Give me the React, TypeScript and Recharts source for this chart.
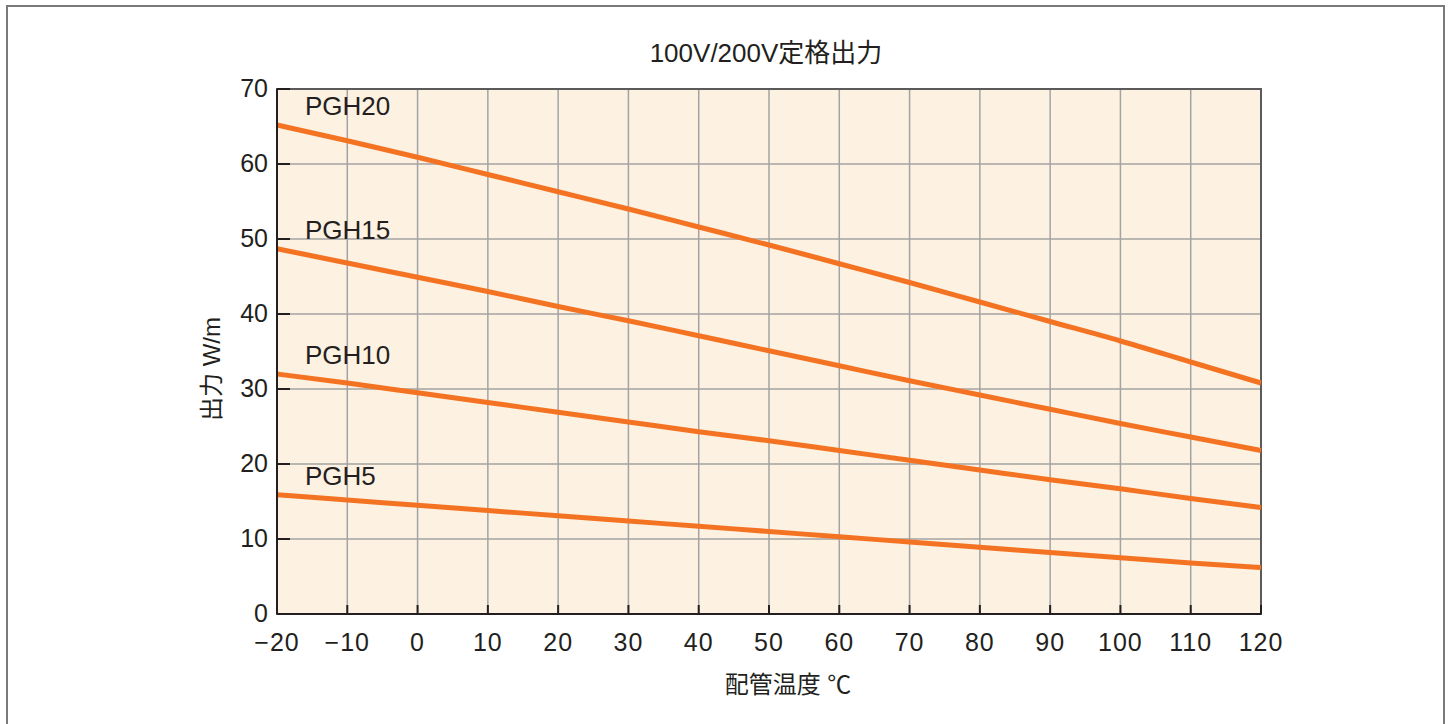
import { LineChart, Line, XAxis, YAxis, CartesianGrid, ReferenceArea, LabelList, Label } from 'recharts'

// 配管温度 ℃
const temps = [-20, -10, 0, 10, 20, 30, 40, 50, 60, 70, 80, 90, 100, 110, 120]

// 出力 W/m
const pgh20 = [65.2, 63.1, 60.9, 58.6, 56.3, 54.0, 51.6, 49.2, 46.7, 44.2, 41.6, 39.0, 36.4, 33.6, 30.8]
const pgh15 = [48.7, 46.8, 44.9, 43.0, 41.0, 39.1, 37.1, 35.1, 33.1, 31.1, 29.2, 27.3, 25.4, 23.6, 21.8]
const pgh10 = [32.0, 30.8, 29.5, 28.2, 26.9, 25.6, 24.3, 23.1, 21.8, 20.5, 19.2, 17.9, 16.7, 15.4, 14.2]
const pgh5 = [15.9, 15.2, 14.5, 13.8, 13.1, 12.4, 11.7, 11.0, 10.3, 9.6, 8.9, 8.2, 7.5, 6.8, 6.2]

const seriesNames = ['PGH20', 'PGH15', 'PGH10', 'PGH5']
const xTicks = [-20, -10, 0, 10, 20, 30, 40, 50, 60, 70, 80, 90, 100, 110, 120]
const yTicks = [0, 10, 20, 30, 40, 50, 60, 70]

const title = '100V/200V定格出力'
const xLabel = '配管温度 ℃'
const yLabel = '出力 W/m'

const data = temps.map((t, i) => ({
  t,
  PGH20: pgh20[i],
  PGH15: pgh15[i],
  PGH10: pgh10[i],
  PGH5: pgh5[i],
}))

const FONT = '"Liberation Sans", Arial, "Noto Sans CJK JP", sans-serif'
const TEXT = '#231f20'
const ORANGE = '#f47322'

const fmtX = (v: number) => (v < 0 ? `\u2212${-v}` : `${v}`)

const XTick = (props: any) => {
  const { x, y, payload } = props
  return (
    <g>
      <line x1={x} x2={x} y1={y} y2={y - 9} stroke={TEXT} strokeWidth={2} />
      <text x={x} y={y + 37} textAnchor="middle" fontSize={25} letterSpacing={1} fill={TEXT} fontFamily={FONT}>
        {fmtX(payload.value)}
      </text>
    </g>
  )
}

const YTick = (props: any) => {
  const { x, y, payload } = props
  return (
    <g>
      <line x1={x} x2={x + 13} y1={y} y2={y} stroke={TEXT} strokeWidth={2} />
      <text x={x - 9} y={y + 8} textAnchor="end" fontSize={25} fill={TEXT} fontFamily={FONT}>
        {payload.value}
      </text>
    </g>
  )
}

const seriesLabel = (name: string) => (props: any) => {
  const { x, y, index } = props
  if (index !== 0) return null
  return (
    <text x={x + 28} y={y - 10} fontSize={26} fill={TEXT} fontFamily={FONT}>
      {name}
    </text>
  )
}

export default function App() {
  return (
    <div style={{ position: 'absolute', left: 0, top: 0, width: 1451, height: 724, overflow: 'hidden', background: '#fff' }}>
      <div
        style={{
          position: 'absolute',
          left: 6,
          top: 5,
          width: 1439,
          height: 760,
          boxSizing: 'border-box',
          border: '2px solid #7a7a7a',
        }}
      />
      <div style={{ position: 'absolute', left: 0, top: 0 }}>
        <LineChart width={1451} height={724} data={data} margin={{ top: 89, right: 190, left: 177, bottom: 50 }}>
          <CartesianGrid fill="#fdf1e2" stroke="#a3a3a3" strokeWidth={1.5} />
          <XAxis
            dataKey="t"
            type="number"
            domain={[-20, 120]}
            ticks={xTicks}
            height={60}
            tickSize={0}
            tickMargin={0}
            tick={<XTick />}
            axisLine={{ stroke: TEXT, strokeWidth: 2 }}
            tickLine={false}
          >
            <Label
              content={() => (
                <g>
                  <text x={766} y={62} textAnchor="middle" fontSize={26} fill={TEXT} fontFamily={FONT}>
                    {title}
                  </text>
                  <text x={788} y={693} textAnchor="middle" fontSize={24} fill={TEXT} fontFamily={FONT}>
                    {xLabel}
                  </text>
                </g>
              )}
            />
          </XAxis>
          <YAxis
            type="number"
            domain={[0, 70]}
            ticks={yTicks}
            width={100}
            tickSize={0}
            tickMargin={0}
            tick={<YTick />}
            axisLine={{ stroke: TEXT, strokeWidth: 2 }}
            tickLine={false}
          >
            <Label
              content={() => (
                <text
                  x={220}
                  y={369}
                  textAnchor="middle"
                  fontSize={24}
                  fill={TEXT}
                  fontFamily={FONT}
                  transform="rotate(-90 220 369)"
                >
                  {yLabel}
                </text>
              )}
            />
          </YAxis>
          <ReferenceArea x1={-20} x2={120} y1={0} y2={70} fill="none" stroke="#5a5a5a" strokeWidth={2} />
          {seriesNames.map((name) => (
            <Line
              key={name}
              type="monotone"
              dataKey={name}
              stroke={ORANGE}
              strokeWidth={5}
              dot={false}
              activeDot={false}
              isAnimationActive={false}
            >
              <LabelList dataKey={name} content={seriesLabel(name)} />
            </Line>
          ))}
        </LineChart>
      </div>
    </div>
  )
}
